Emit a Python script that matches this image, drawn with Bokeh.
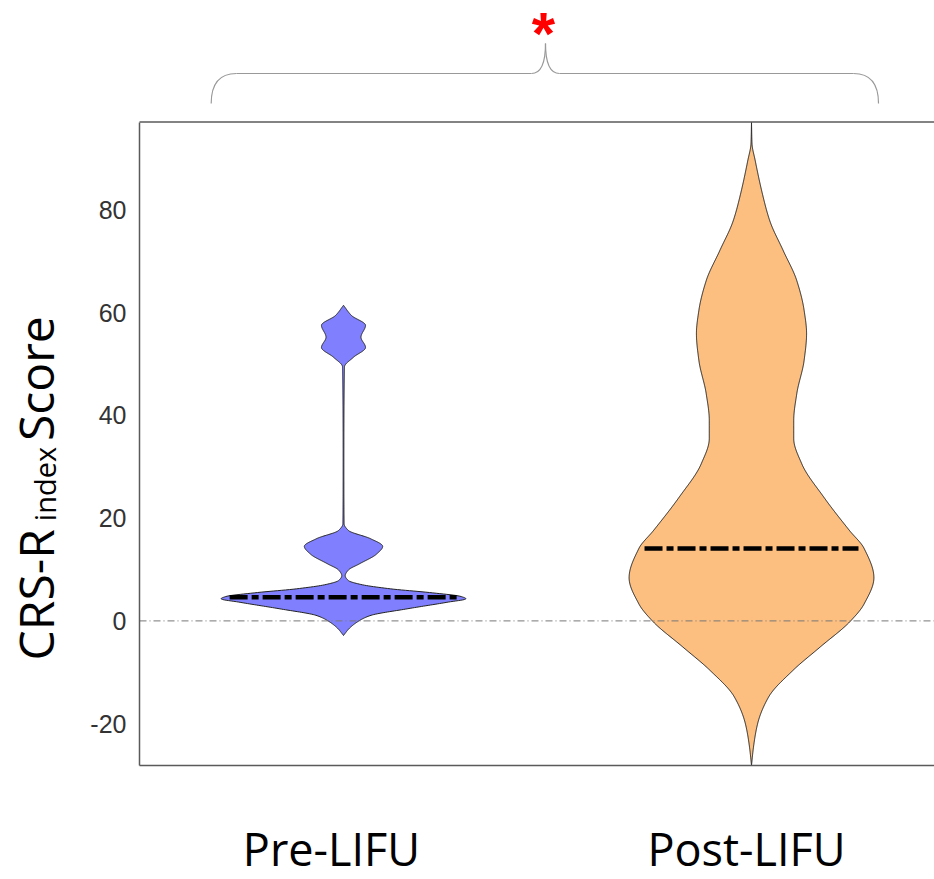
import numpy as np
from bokeh.plotting import figure
from bokeh.models import Range1d, Label, FixedTicker
from bokeh.embed import file_html
from bokeh.resources import INLINE

# ---------------- data ----------------
categories = ["Pre-LIFU", "Post-LIFU"]
cat_pos = [1, 2]

# violin outlines: score values and relative density (max = 1)
pre_scores = [-2.84, -1.54, -0.25, 1.05, 2.35, 3.64, 4.3, 4.75, 5.5, 6.25, 7.1,
              7.85, 8.8, 9.9, 11.1, 13.0, 14.5, 16.0, 17.6, 18.9, 30.0, 49.4,
              51.3, 53.2, 55.2, 57.5, 59.4, 61.4]
pre_density = [0.0, 0.044, 0.11, 0.22, 0.52, 0.85, 1.0, 0.96, 0.71, 0.38, 0.14,
               0.04, 0.014, 0.04, 0.13, 0.27, 0.32, 0.22, 0.04, 0.005, 0.003, 0.008,
               0.082, 0.18, 0.143, 0.18, 0.066, 0.0]

post_scores = [-28.1, -24.6, -20.0, -14.8, -9.6, -5.1, 0.0, 3.3, 8.4, 14.1, 17.6,
               24.1, 30.6, 35.5, 39.0, 44.2, 50.7, 55.9, 60.4, 66.2, 72.0, 77.8,
               83.0, 89.6, 92.9, 97.0]
post_density = [0.0, 0.016, 0.05, 0.14, 0.34, 0.56, 0.81, 0.92, 1.0, 0.92, 0.80,
                0.59, 0.41, 0.345, 0.345, 0.37, 0.43, 0.45, 0.43, 0.37, 0.26, 0.15,
                0.09, 0.03, 0.004, 0.0]

medians = [4.6, 14.1]
y_ticks = [-20, 0, 20, 40, 60, 80]
y_tick_labels = {-20: "-20", 0: "0", 20: "20", 40: "40", 60: "60", 80: "80"}
significance = "*"

# ---------------- style / layout ----------------
fills = ["#8080FF", "#FDBF80"]
half_width = 0.3
# the plotting frame covers the whole canvas; the box is drawn inside it
CX0, CX1 = 0.15931, 2.44853        # canvas x extent in data units
CY0, CY1 = -50.31, 120.7           # canvas y extent in data units
BX0 = 0.5                          # left edge of the box
BY0, BY1 = -28.13, 97.05           # bottom / top of the box
frame_col = "#5a5a5a"


def pchip(x, y, xs):
    x = np.asarray(x, float)
    y = np.asarray(y, float)
    h = np.diff(x)
    delta = np.diff(y) / h
    d = np.zeros_like(y)
    for k in range(1, len(x) - 1):
        if delta[k - 1] * delta[k] > 0:
            w1 = 2 * h[k] + h[k - 1]
            w2 = h[k] + 2 * h[k - 1]
            d[k] = (w1 + w2) / (w1 / delta[k - 1] + w2 / delta[k])
    d[0] = delta[0]
    d[-1] = delta[-1]
    idx = np.clip(np.searchsorted(x, xs) - 1, 0, len(x) - 2)
    t = (xs - x[idx]) / h[idx]
    h00 = 2 * t**3 - 3 * t**2 + 1
    h10 = t**3 - 2 * t**2 + t
    h01 = -2 * t**3 + 3 * t**2
    h11 = t**3 - t**2
    return (h00 * y[idx] + h10 * h[idx] * d[idx] + h01 * y[idx + 1]
            + h11 * h[idx] * d[idx + 1])


p = figure(width=934, height=879, output_backend="svg", toolbar_location=None,
           title=None, x_range=Range1d(CX0, CX1), y_range=Range1d(CY0, CY1),
           min_border=0, min_border_left=0, min_border_right=0,
           min_border_top=0, min_border_bottom=0)
p.outline_line_color = None
p.grid.visible = False
p.background_fill_color = "white"
p.border_fill_color = "white"

profiles = [(pre_scores, pre_density), (post_scores, post_density)]
for (sc, de), cx, col in zip(profiles, cat_pos, fills):
    ys = np.linspace(sc[0], sc[-1], 900)
    ws = np.clip(pchip(sc, de, ys), 0, None) * half_width
    xs = np.concatenate([cx + ws, (cx - ws)[::-1]])
    yy = np.concatenate([ys, ys[::-1]])
    p.patch(xs, yy, fill_color=col, line_color="#222222", line_width=1)

# zero reference line
p.segment(x0=[BX0], y0=[0], x1=[CX1], y1=[0], line_color="#777777",
          line_width=1, line_dash="7 3 1 3")

# medians
for (sc, de), cx, m in zip(profiles, cat_pos, medians):
    w = float(pchip(sc, de, np.array([m]))[0]) * half_width * 0.95
    p.segment(x0=[cx - w], y0=[m], x1=[cx + w], y1=[m], line_color="black",
              line_width=4.5, line_dash="18 4 7 4", line_cap="butt")

# box: top border
p.segment(x0=[BX0], y0=[BY1], x1=[CX1], y1=[BY1], line_color=frame_col, line_width=1.5)

# y axis fixed on the left edge of the box
ax = p.yaxis[0]
ax.fixed_location = BX0
ax.ticker = FixedTicker(ticks=y_ticks)
ax.major_label_overrides = y_tick_labels
ax.bounds = (BY0, BY1)
ax.axis_line_color = frame_col
ax.axis_line_width = 1.5
ax.major_tick_line_color = None
ax.minor_tick_line_color = None
ax.major_label_text_font = "Liberation Sans"
ax.major_label_text_font_size = "25px"
ax.major_label_text_color = "#333333"
ax.major_label_standoff = 7

# x axis: only the bottom border line
xa = p.xaxis[0]
xa.fixed_location = BY0
xa.bounds = (BX0, CX1)
xa.ticker = FixedTicker(ticks=[])
xa.axis_line_color = frame_col
xa.axis_line_width = 1.5
xa.major_tick_line_color = None
xa.minor_tick_line_color = None
xa.major_label_text_font_size = "0px"

# significance bracket
bx = dict(l=0.6757, lc=0.7377, ml=1.4608, m=1.4951, mr=1.5294, rc=2.25, r=2.3113)
by_end, by_bar, by_tip = 100.66, 106.5, 112.33
bcol = "#999999"
p.quadratic(x0=[bx["l"], bx["ml"], bx["m"], bx["rc"]],
            y0=[by_end, by_bar, by_tip, by_bar],
            x1=[bx["lc"], bx["m"], bx["mr"], bx["r"]],
            y1=[by_bar, by_tip, by_bar, by_end],
            cx=[bx["l"], bx["m"], bx["m"], bx["r"]],
            cy=[by_bar, by_bar, by_bar, by_bar],
            line_color=bcol, line_width=1.2)
p.segment(x0=[bx["lc"], bx["mr"]], y0=[by_bar, by_bar],
          x1=[bx["ml"], bx["rc"]], y1=[by_bar, by_bar],
          line_color=bcol, line_width=1.2)
p.add_layout(Label(x=bx["m"] - 0.005, y=114.2, text=significance, text_align="center",
                   text_baseline="alphabetic", text_color="#FF0000",
                   text_font="Liberation Sans", text_font_style="bold",
                   text_font_size="60px"))

# y axis title with subscript
title_font = "Open Sans"
p.add_layout(Label(x=0.244, y=-7.7, text="CRS-R", angle=90, angle_units="deg",
                   text_align="left", text_baseline="alphabetic",
                   text_font=title_font, text_font_size="48px", text_color="black"))
p.add_layout(Label(x=0.268, y=19.4, text="index", angle=90, angle_units="deg",
                   text_align="left", text_baseline="alphabetic",
                   text_font=title_font, text_font_size="29px", text_color="black"))
p.add_layout(Label(x=0.244, y=35.0, text="Score", angle=90, angle_units="deg",
                   text_align="left", text_baseline="alphabetic",
                   text_font=title_font, text_font_size="48px", text_color="black"))

# category labels
cat_label_x = [0.9706, 1.9877]
cat_label_y = [-44.3, -44.25]
for name, lx, ly in zip(categories, cat_label_x, cat_label_y):
    p.add_layout(Label(x=lx, y=ly, text=name, text_align="center",
                       text_baseline="alphabetic", text_font=title_font,
                       text_font_size="45px", text_color="black"))

open("out.html", "w").write(file_html(p, INLINE))
